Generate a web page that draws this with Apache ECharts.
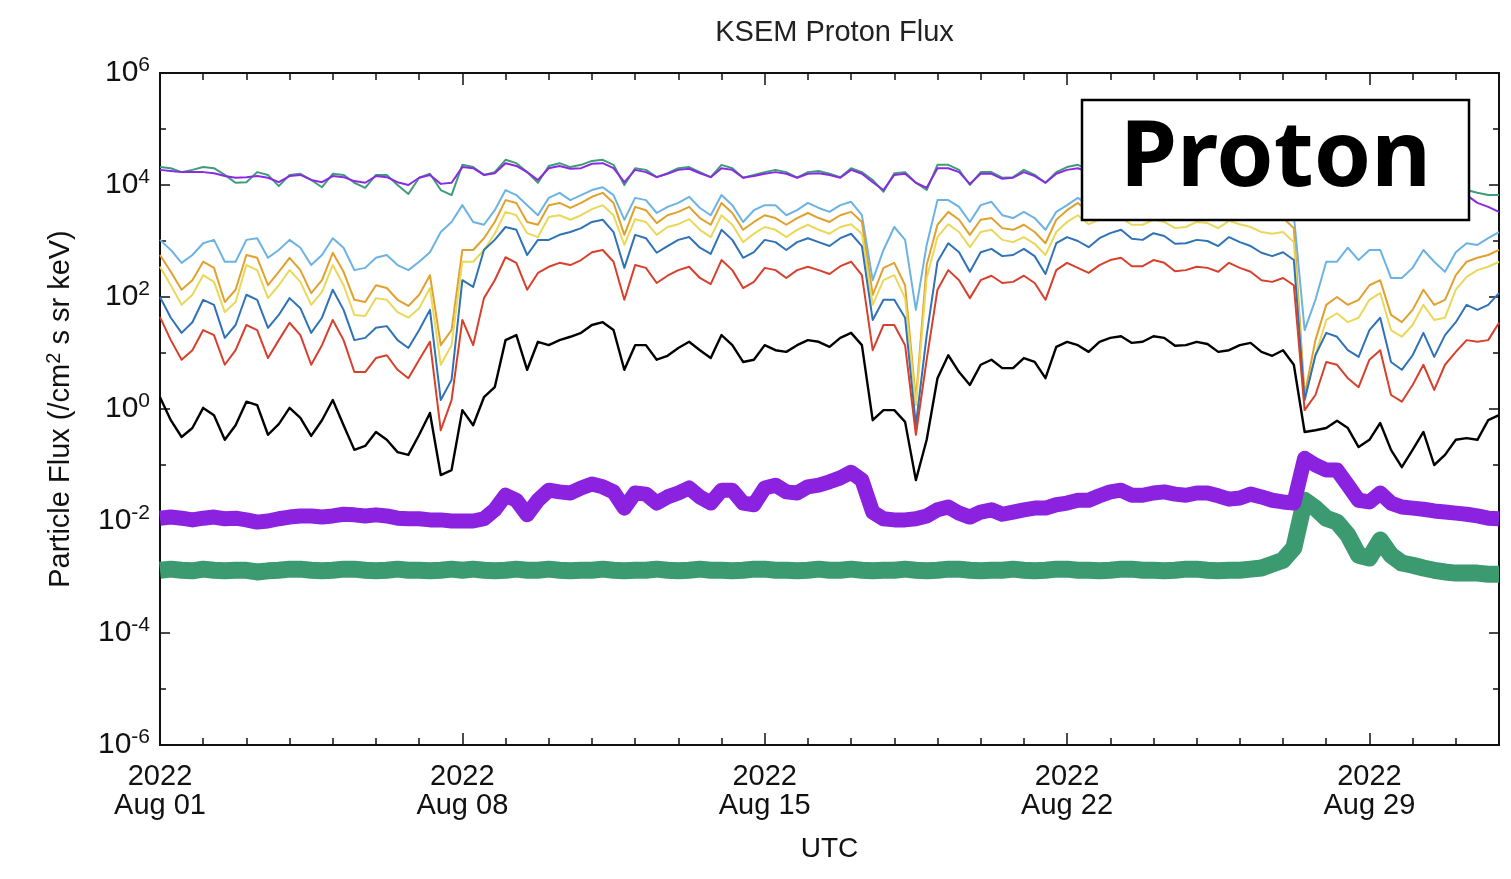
<!DOCTYPE html>
<html>
<head>
<meta charset="utf-8">
<title>KSEM Proton Flux</title>
<script src="https://cdn.jsdelivr.net/npm/echarts@6/dist/echarts.min.js"></script>
<style>
  html, body { margin: 0; padding: 0; background: #fff; }
  #chart { width: 1511px; height: 879px; }
</style>
</head>
<body>
<div id="chart"></div>
<script>
// KSEM proton flux, August 2022.
// Every series holds log10(flux) in /cm^2 s sr keV, one sample every 6 h
// starting 2022-08-01 00:00 UTC (125 samples, through 2022-09-01 00:00 UTC).

const START_UTC = Date.UTC(2022, 7, 1);
const SAMPLE_HOURS = 6;
const MONTHS = ['Jan','Feb','Mar','Apr','May','Jun','Jul','Aug','Sep','Oct','Nov','Dec'];
const yTickExponents = [-6, -4, -2, 0, 2, 4, 6];

const topGreen = [
  4.32, 4.30, 4.23, 4.27,  4.32, 4.30, 4.18, 4.04,
  4.05, 4.23, 4.18, 3.98,  4.18, 4.20, 4.09, 3.96,
  4.20, 4.18, 4.04, 3.95,  4.18, 4.18, 4.00, 3.84,
  4.13, 4.20, 3.91, 3.82,  4.36, 4.32, 4.18, 4.23,
  4.45, 4.39, 4.23, 4.04,  4.34, 4.39, 4.32, 4.36,
  4.43, 4.45, 4.36, 4.00,  4.30, 4.27, 4.14, 4.21,
  4.30, 4.32, 4.23, 4.14,  4.36, 4.30, 4.13, 4.18,
  4.23, 4.27, 4.23, 4.13,  4.23, 4.25, 4.20, 4.14,
  4.30, 4.23, 4.09, 3.88,  4.21, 4.23, 4.04, 3.91,
  4.36, 4.36, 4.27, 4.00,  4.23, 4.23, 4.13, 4.14,
  4.27, 4.18, 4.04, 4.23,  4.32, 4.36, 4.27, 4.18,
  4.30, 4.32, 4.23, 4.14,  4.30, 4.30, 4.20, 4.13,
  4.27, 4.27, 4.18, 4.13,  4.25, 4.23, 4.13, 4.05,
  4.18, 4.09, 3.82, 3.82,  3.88, 3.95, 3.86, 3.82,
  3.95, 3.98, 3.82, 3.77,  3.88, 3.95, 3.82, 3.79,
  3.88, 3.91, 3.86, 3.82,  3.82
];

const topPurple = [
  4.27, 4.25, 4.23, 4.23,  4.23, 4.21, 4.16, 4.13,
  4.14, 4.16, 4.13, 4.05,  4.16, 4.18, 4.09, 4.05,
  4.16, 4.14, 4.07, 4.04,  4.16, 4.14, 4.05, 4.00,
  4.13, 4.18, 4.02, 4.04,  4.32, 4.30, 4.18, 4.21,
  4.39, 4.34, 4.23, 4.09,  4.30, 4.34, 4.29, 4.30,
  4.38, 4.39, 4.30, 4.05,  4.27, 4.23, 4.14, 4.20,
  4.27, 4.29, 4.21, 4.14,  4.30, 4.27, 4.13, 4.16,
  4.20, 4.23, 4.20, 4.13,  4.20, 4.21, 4.18, 4.13,
  4.27, 4.20, 4.05, 3.91,  4.18, 4.20, 4.04, 3.95,
  4.30, 4.30, 4.23, 4.02,  4.20, 4.20, 4.11, 4.13,
  4.23, 4.16, 4.04, 4.20,  4.27, 4.30, 4.23, 4.16,
  4.25, 4.27, 4.20, 4.13,  4.25, 4.25, 4.18, 4.11,
  4.23, 4.23, 4.16, 4.11,  4.21, 4.20, 4.11, 4.04,
  4.13, 4.04, 3.73, 3.73,  3.79, 3.86, 3.79, 3.75,
  3.86, 3.89, 3.75, 3.70,  3.79, 3.84, 3.75, 3.71,
  3.79, 3.82, 3.68, 3.61,  3.52
];

const lightBlue = [
  3.02, 2.84, 2.61, 2.75,  2.96, 3.02, 2.63, 2.63,
  3.02, 3.05, 2.70, 2.84,  3.02, 2.88, 2.57, 2.75,
  3.05, 2.88, 2.48, 2.52,  2.70, 2.75, 2.57, 2.48,
  2.63, 2.80, 3.16, 3.34,  3.64, 3.34, 3.29, 3.55,
  3.91, 3.82, 3.64, 3.46,  3.77, 3.86, 3.73, 3.82,
  3.91, 3.96, 3.82, 3.38,  3.77, 3.73, 3.50, 3.61,
  3.68, 3.79, 3.59, 3.46,  3.82, 3.64, 3.34, 3.55,
  3.64, 3.64, 3.46, 3.55,  3.68, 3.59, 3.52, 3.64,
  3.70, 3.46, 2.30, 2.84,  3.25, 3.02, 1.77, 2.93,
  3.73, 3.73, 3.61, 3.34,  3.64, 3.70, 3.46, 3.41,
  3.52, 3.41, 3.20, 3.52,  3.64, 3.77, 3.64, 3.77,
  3.82, 3.86, 3.73, 3.73,  3.82, 3.80, 3.68, 3.70,
  3.77, 3.77, 3.68, 3.79,  3.73, 3.68, 3.59, 3.55,
  3.61, 3.46, 1.41, 1.95,  2.63, 2.63, 2.88, 2.66,
  2.84, 2.84, 2.34, 2.34,  2.52, 2.84, 2.63, 2.45,
  2.80, 2.96, 2.93, 3.05,  3.16
];

const orange = [
  2.75, 2.45, 2.13, 2.30,  2.63, 2.52, 1.91, 2.13,
  2.75, 2.70, 2.21, 2.45,  2.70, 2.48, 2.07, 2.30,
  2.79, 2.45, 1.95, 1.91,  2.21, 2.16, 1.95, 1.84,
  2.04, 2.39, 1.14, 1.41,  2.84, 2.84, 3.05, 3.34,
  3.73, 3.68, 3.34, 3.29,  3.64, 3.68, 3.59, 3.68,
  3.79, 3.86, 3.68, 3.11,  3.61, 3.55, 3.32, 3.46,
  3.52, 3.61, 3.41, 3.29,  3.68, 3.50, 3.20, 3.34,
  3.46, 3.41, 3.29, 3.41,  3.50, 3.41, 3.34, 3.46,
  3.52, 3.34, 2.04, 2.52,  2.61, 2.21, 0.16, 2.57,
  3.29, 3.52, 3.38, 3.11,  3.38, 3.41, 3.23, 3.20,
  3.29, 3.16, 2.96, 3.38,  3.55, 3.68, 3.52, 3.59,
  3.64, 3.68, 3.55, 3.55,  3.64, 3.61, 3.48, 3.50,
  3.59, 3.57, 3.48, 3.61,  3.55, 3.50, 3.41, 3.38,
  3.41, 3.23, 0.25, 1.23,  1.86, 2.00, 1.86, 1.95,
  2.21, 2.30, 1.68, 1.55,  1.77, 2.13, 1.86, 1.95,
  2.39, 2.63, 2.70, 2.75,  2.84
];

const yellow = [
  2.54, 2.21, 1.86, 2.04,  2.39, 2.27, 1.73, 1.91,
  2.57, 2.48, 1.98, 2.21,  2.48, 2.27, 1.86, 2.09,
  2.57, 2.21, 1.68, 1.66,  1.98, 1.95, 1.73, 1.63,
  1.80, 2.16, 0.79, 1.14,  2.63, 2.63, 2.84, 3.13,
  3.52, 3.46, 3.14, 3.07,  3.43, 3.46, 3.38, 3.46,
  3.57, 3.64, 3.46, 2.93,  3.39, 3.34, 3.11, 3.25,
  3.30, 3.39, 3.20, 3.07,  3.46, 3.29, 2.98, 3.13,
  3.25, 3.20, 3.07, 3.20,  3.29, 3.20, 3.13, 3.25,
  3.30, 3.13, 1.86, 2.30,  2.39, 1.98, 0.07, 2.34,
  3.07, 3.30, 3.16, 2.89,  3.16, 3.20, 3.02, 2.98,
  3.07, 2.95, 2.75, 3.16,  3.34, 3.46, 3.30, 3.38,
  3.38, 3.41, 3.29, 3.29,  3.38, 3.34, 3.23, 3.25,
  3.34, 3.32, 3.23, 3.36,  3.30, 3.25, 3.16, 3.13,
  3.16, 2.98, 0.16, 0.96,  1.59, 1.71, 1.55, 1.63,
  1.95, 2.07, 1.41, 1.29,  1.50, 1.86, 1.59, 1.63,
  2.13, 2.36, 2.48, 2.54,  2.63
];

const blue = [
  2.00, 1.63, 1.36, 1.55,  1.95, 1.86, 1.27, 1.50,
  2.04, 1.95, 1.45, 1.68,  1.98, 1.80, 1.36, 1.63,
  2.13, 1.77, 1.23, 1.27,  1.45, 1.48, 1.23, 1.09,
  1.41, 1.77, 0.16, 0.52,  2.30, 2.18, 2.84, 3.02,
  3.25, 3.20, 2.75, 3.02,  3.02, 3.11, 3.16, 3.23,
  3.34, 3.38, 3.16, 2.52,  3.11, 3.05, 2.79, 2.91,
  3.02, 3.07, 2.88, 2.77,  3.20, 3.02, 2.70, 2.80,
  3.02, 2.98, 2.84, 2.98,  3.05, 2.98, 2.91, 3.05,
  3.13, 2.91, 1.59, 1.95,  1.95, 1.63, -0.29, 1.32,
  2.63, 2.96, 2.80, 2.45,  2.80, 2.86, 2.73, 2.75,
  2.86, 2.73, 2.41, 2.96,  3.07, 3.00, 2.89, 3.05,
  3.14, 3.20, 3.04, 3.02,  3.14, 3.09, 2.95, 2.96,
  3.02, 3.00, 2.91, 3.07,  2.98, 2.91, 2.79, 2.73,
  2.80, 2.66, 0.16, 0.96,  1.36, 1.29, 1.05, 0.93,
  1.41, 1.63, 0.84, 0.70,  0.96, 1.36, 0.93, 1.32,
  1.55, 1.86, 1.77, 1.86,  2.07
];

const red = [
  1.64, 1.23, 0.88, 1.05,  1.41, 1.32, 0.79, 1.05,
  1.50, 1.41, 0.91, 1.23,  1.54, 1.32, 0.79, 1.14,
  1.59, 1.23, 0.66, 0.66,  0.91, 0.96, 0.70, 0.55,
  0.88, 1.20, -0.38, 0.16, 1.59, 1.14, 1.98, 2.30,
  2.71, 2.61, 2.13, 2.43,  2.54, 2.61, 2.57, 2.66,
  2.80, 2.84, 2.63, 1.95,  2.57, 2.52, 2.25, 2.38,
  2.48, 2.54, 2.34, 2.23,  2.66, 2.48, 2.16, 2.27,
  2.52, 2.48, 2.34, 2.48,  2.54, 2.48, 2.41, 2.55,
  2.63, 2.39, 1.05, 1.50,  1.50, 1.14, -0.46, 0.88,
  2.13, 2.48, 2.30, 1.98,  2.30, 2.38, 2.25, 2.27,
  2.38, 2.25, 1.95, 2.48,  2.61, 2.52, 2.43, 2.57,
  2.66, 2.70, 2.55, 2.55,  2.66, 2.61, 2.46, 2.48,
  2.54, 2.52, 2.45, 2.61,  2.52, 2.45, 2.30, 2.27,
  2.34, 2.21, -0.02, 0.25, 0.84, 0.79, 0.55, 0.39,
  0.88, 1.05, 0.25, 0.13,  0.43, 0.79, 0.34, 0.79,
  1.02, 1.23, 1.20, 1.23,  1.54
];

const black = [
  0.21, -0.20, -0.50, -0.34,  0.02, -0.11, -0.55, -0.29,
  0.13, 0.07, -0.46, -0.27,   0.02, -0.16, -0.48, -0.20,
  0.16, -0.29, -0.73, -0.66,  -0.41, -0.55, -0.77, -0.82,
  -0.46, -0.07, -1.18, -1.09, -0.02, -0.29, 0.21, 0.39,
  1.23, 1.32, 0.70, 1.20,     1.14, 1.23, 1.29, 1.36,
  1.50, 1.55, 1.41, 0.70,     1.14, 1.14, 0.88, 0.95,
  1.09, 1.20, 1.05, 0.91,     1.32, 1.14, 0.84, 0.88,
  1.14, 1.05, 1.02, 1.14,     1.23, 1.20, 1.11, 1.27,
  1.36, 1.14, -0.20, -0.02,   -0.02, -0.23, -1.27, -0.55,
  0.55, 0.96, 0.66, 0.43,     0.79, 0.88, 0.73, 0.73,
  0.91, 0.84, 0.55, 1.11,     1.20, 1.14, 1.02, 1.20,
  1.27, 1.30, 1.18, 1.20,     1.30, 1.27, 1.13, 1.14,
  1.20, 1.16, 1.02, 1.05,     1.14, 1.18, 1.02, 0.95,
  1.05, 0.79, -0.41, -0.38,   -0.34, -0.21, -0.34, -0.68,
  -0.55, -0.25, -0.73, -1.04, -0.73, -0.41, -1.00, -0.82,
  -0.55, -0.52, -0.55, -0.20, -0.11
];

const lowPurple = [
  -1.95, -1.93, -1.95, -1.98,  -1.95, -1.93, -1.96, -1.95,
  -1.98, -2.02, -2.00, -1.96,  -1.93, -1.91, -1.91, -1.93,
  -1.91, -1.88, -1.89, -1.91,  -1.89, -1.91, -1.95, -1.96,
  -1.96, -1.98, -1.98, -2.00,  -2.00, -2.00, -1.96, -1.80,
  -1.54, -1.63, -1.89, -1.63,  -1.45, -1.48, -1.50, -1.41,
  -1.34, -1.39, -1.48, -1.77,  -1.50, -1.52, -1.68, -1.57,
  -1.50, -1.41, -1.57, -1.68,  -1.45, -1.45, -1.68, -1.71,
  -1.41, -1.36, -1.48, -1.50,  -1.39, -1.36, -1.30, -1.23,
  -1.13, -1.27, -1.84, -1.96,  -1.98, -1.98, -1.96, -1.91,
  -1.80, -1.75, -1.86, -1.93,  -1.84, -1.80, -1.88, -1.84,
  -1.80, -1.77, -1.77, -1.71,  -1.68, -1.63, -1.63, -1.55,
  -1.48, -1.45, -1.54, -1.54,  -1.50, -1.48, -1.52, -1.54,
  -1.50, -1.50, -1.55, -1.61,  -1.59, -1.52, -1.57, -1.63,
  -1.66, -1.68, -0.88, -1.00,  -1.09, -1.09, -1.36, -1.63,
  -1.66, -1.50, -1.68, -1.75,  -1.77, -1.79, -1.82, -1.84,
  -1.86, -1.88, -1.91, -1.95,  -1.96
];

const lowGreen = [
  -2.88, -2.86, -2.88, -2.89,  -2.86, -2.88, -2.89, -2.88,
  -2.88, -2.91, -2.89, -2.88,  -2.86, -2.86, -2.88, -2.89,
  -2.88, -2.86, -2.86, -2.88,  -2.89, -2.88, -2.86, -2.88,
  -2.88, -2.89, -2.88, -2.86,  -2.88, -2.86, -2.88, -2.89,
  -2.88, -2.86, -2.88, -2.88,  -2.86, -2.88, -2.89, -2.88,
  -2.88, -2.86, -2.88, -2.89,  -2.88, -2.88, -2.86, -2.88,
  -2.89, -2.88, -2.86, -2.88,  -2.88, -2.89, -2.88, -2.86,
  -2.86, -2.88, -2.88, -2.89,  -2.88, -2.86, -2.88, -2.88,
  -2.86, -2.88, -2.89, -2.88,  -2.88, -2.86, -2.88, -2.89,
  -2.88, -2.86, -2.86, -2.88,  -2.89, -2.88, -2.88, -2.86,
  -2.88, -2.89, -2.88, -2.86,  -2.86, -2.88, -2.88, -2.89,
  -2.88, -2.86, -2.86, -2.88,  -2.88, -2.89, -2.88, -2.86,
  -2.86, -2.88, -2.89, -2.88,  -2.88, -2.86, -2.84, -2.77,
  -2.70, -2.48, -1.63, -1.77,  -1.95, -2.02, -2.25, -2.61,
  -2.66, -2.34, -2.61, -2.75,  -2.79, -2.84, -2.88, -2.91,
  -2.93, -2.93, -2.93, -2.95,  -2.95
];

// Drawing order, colours and widths of the traces (bottom to top).
const traces = [
  { name: 'lowGreen',  values: lowGreen,  color: '#3b9a70', width: 17 },
  { name: 'lowPurple', values: lowPurple, color: '#8a22e0', width: 15 },
  { name: 'topGreen',  values: topGreen,  color: '#3f9c78', width: 2 },
  { name: 'topPurple', values: topPurple, color: '#8a2be2', width: 2 },
  { name: 'lightBlue', values: lightBlue, color: '#6cb3e4', width: 2 },
  { name: 'orange',    values: orange,    color: '#e0a12e', width: 2 },
  { name: 'yellow',    values: yellow,    color: '#e9d85a', width: 2 },
  { name: 'blue',      values: blue,      color: '#2f72b6', width: 2 },
  { name: 'black',     values: black,     color: '#000000', width: 2.4 },
  { name: 'red',       values: red,       color: '#d6402c', width: 2 }
];

const FONT = "'Liberation Sans', Arial, Helvetica, sans-serif";
const INK = '#111';

function dayOfSample(i) { return i * SAMPLE_HOURS / 24; }

function dateLabel(day) {
  const d = new Date(START_UTC + day * 86400000);
  const dd = String(d.getUTCDate()).padStart(2, '0');
  return d.getUTCFullYear() + '\n' + MONTHS[d.getUTCMonth()] + ' ' + dd;
}

const tickStyle = { color: INK, width: 1.5 };

function xAxisDef(position, interval, tickLen, withLabels) {
  return {
    type: 'value', gridIndex: 0, position, min: 0, max: 31, interval,
    axisLine: { show: true, onZero: false, lineStyle: { color: INK, width: 2 } },
    axisTick: { show: true, inside: true, length: tickLen, lineStyle: tickStyle },
    axisLabel: withLabels ? {
      show: true, margin: 17, color: INK, fontFamily: FONT, fontSize: 29, lineHeight: 29,
      showMaxLabel: false, formatter: v => dateLabel(v)
    } : { show: false },
    splitLine: { show: false }
  };
}

function yAxisDef(position, interval, tickLen, withLabels) {
  return {
    type: 'value', gridIndex: 0, position, min: -6, max: 6, interval,
    axisLine: { show: true, onZero: false, lineStyle: { color: INK, width: 2 } },
    axisTick: { show: true, inside: true, length: tickLen, lineStyle: tickStyle },
    axisLabel: withLabels ? {
      show: true, margin: 10,
      formatter: v => yTickExponents.includes(v) ? '{b|10}{s|' + v + '}' : '',
      rich: {
        b: { fontFamily: FONT, fontSize: 30, lineHeight: 34, color: INK },
        s: { fontFamily: FONT, fontSize: 21, lineHeight: 21, color: INK, padding: [0, 0, 15, 0] }
      }
    } : { show: false },
    splitLine: { show: false }
  };
}

const xMajorBottom = xAxisDef('bottom', 7, 12, true);
xMajorBottom.name = 'UTC';
xMajorBottom.nameLocation = 'middle';
xMajorBottom.nameGap = 90;
xMajorBottom.nameTextStyle = { fontFamily: FONT, fontSize: 28, color: INK };

const yMajorLeft = yAxisDef('left', 2, 10, true);
yMajorLeft.name = 'Particle Flux (/cm{sup|2} s sr keV)';
yMajorLeft.nameLocation = 'middle';
yMajorLeft.nameGap = 82;
yMajorLeft.nameTextStyle = {
  fontFamily: FONT, fontSize: 29, color: INK,
  rich: { sup: { fontFamily: FONT, fontSize: 20, color: INK, padding: [0, 0, 14, 0] } }
};

const option = {
  animation: false,
  backgroundColor: '#ffffff',
  title: {
    text: 'KSEM Proton Flux',
    left: 829.5, top: 13, textAlign: 'center',
    textStyle: { fontFamily: FONT, fontSize: 29, fontWeight: 'normal', color: '#222' }
  },
  grid: { left: 160, right: 12, top: 73, bottom: 134, containLabel: false },
  xAxis: [
    xMajorBottom,
    xAxisDef('bottom', 1, 7, false),
    xAxisDef('top', 7, 12, false),
    xAxisDef('top', 1, 7, false)
  ],
  yAxis: [
    yMajorLeft,
    yAxisDef('left', 1, 6, false),
    yAxisDef('right', 2, 10, false),
    yAxisDef('right', 1, 6, false)
  ],
  series: traces.map(t => ({
    name: t.name,
    type: 'line',
    xAxisIndex: 0,
    yAxisIndex: 0,
    data: t.values.map((v, i) => [dayOfSample(i), v]),
    showSymbol: false,
    silent: true,
    clip: true,
    lineStyle: { color: t.color, width: t.width, join: 'round' },
    itemStyle: { color: t.color }
  })),
  graphic: [
    { type: 'rect', z: 100, zlevel: 1, shape: { x: 1082, y: 100, width: 387, height: 120 },
      style: { fill: '#ffffff', stroke: '#000', lineWidth: 2.5 } },
    { type: 'text', z: 101, zlevel: 1, x: 1275.5, y: 160,
      style: { text: 'Proton', fill: '#000', font: "bold 92px 'Noto Sans', sans-serif",
               textAlign: 'center', textVerticalAlign: 'middle' } }
  ]
};

const chart = echarts.init(document.getElementById('chart'), null, { renderer: 'canvas' });
chart.setOption(option);
</script>
</body>
</html>
